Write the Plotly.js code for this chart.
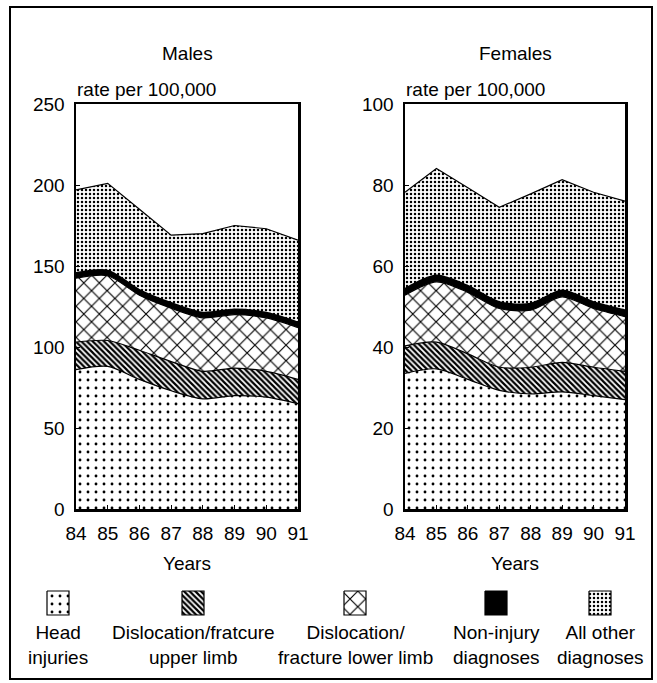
<!DOCTYPE html>
<html><head><meta charset="utf-8">
<script src="https://cdn.plot.ly/plotly-3.0.1.min.js"></script>
<style>html,body{margin:0;padding:0;background:#fff;} #chart{width:657px;height:683px;}</style>
</head><body><div id="chart"></div>
<script>
// ---------- data ----------
const years = [84, 85, 86, 87, 88, 89, 90, 91];
const yearLabels = ['84', '85', '86', '87', '88', '89', '90', '91'];
const categories = ['Head injuries', 'Dislocation/fratcure upper limb', 'Dislocation/fracture lower limb', 'Non-injury diagnoses', 'All other diagnoses'];
const legendLabels = ['Head<br>injuries', 'Dislocation/fratcure<br>upper limb', 'Dislocation/<br>fracture lower limb', 'Non-injury<br>diagnoses', 'All other<br>diagnoses'];

const malesHead       = [86, 88, 80, 73, 68, 70, 69, 65];
const malesUpper      = [17, 16, 18, 18, 17, 17, 16, 15];
const malesLower      = [39.5, 40, 34, 33, 33, 33, 33, 32];
const malesNonInjury  = [3, 3, 3, 3, 3, 3, 3, 3];
const malesOther      = [51.5, 54, 50, 42, 49, 52, 52, 51];

const femalesHead      = [33.5, 34.6, 32, 29.3, 28.4, 28.9, 28, 27];
const femalesUpper     = [6.8, 6.6, 6.3, 5.7, 6.6, 7.3, 7, 7];
const femalesLower     = [12.5, 14.9, 15.2, 14.5, 14.1, 16.2, 14.5, 13.5];
const femalesNonInjury = [1.5, 1.5, 1.5, 1.5, 1.5, 1.5, 1.5, 1.5];
const femalesOther     = [23.9, 26.5, 24.3, 23.5, 27.2, 27.4, 27.2, 27];

const maleTicks = [0, 50, 100, 150, 200, 250];
const femaleTicks = [0, 20, 40, 60, 80, 100];

// ---------- styles ----------
const W = 657, H = 683;
const FONT = 'Liberation Sans, Arial, Helvetica, sans-serif';
const patterns = [
  {shape: '.', size: 8, solidity: 0.1, fgcolor: '#000', bgcolor: '#fff'},
  {shape: '\\', size: 4, solidity: 0.55, fgcolor: '#000', bgcolor: '#fff'},
  {shape: 'x', size: 11, solidity: 0.2, fgcolor: '#000', bgcolor: '#fff'},
  null,
  {shape: '.', size: 4, solidity: 0.3, fgcolor: '#000', bgcolor: '#fff'}
];
const shapes = ['spline', 'spline', 'spline', 'spline', 'linear'];

function panelTraces(series, xa, ya, group) {
  return series.map((vals, i) => {
    const t = {
      type: 'scatter', mode: 'lines', x: years, y: vals, name: categories[i],
      xaxis: xa, yaxis: ya, stackgroup: group,
      line: {color: '#000', width: i === 3 ? 2.5 : 1.2, shape: shapes[i], smoothing: 0.8},
      showlegend: false, hoverinfo: 'skip'
    };
    if (patterns[i]) { t.fillpattern = patterns[i]; t.fillcolor = '#fff'; }
    else { t.fillcolor = '#000'; }
    return t;
  });
}

const traces = [].concat(
  panelTraces([malesHead, malesUpper, malesLower, malesNonInjury, malesOther], 'x', 'y', 'm'),
  panelTraces([femalesHead, femalesUpper, femalesLower, femalesNonInjury, femalesOther], 'x2', 'y2', 'f')
);

// legend icons on a hidden pixel axis
const legendX = [58, 193, 355, 496, 600];
const iconTop = 591, iconBot = 615, iconHalf = 11;
legendX.forEach((cx, i) => {
  const t = {
    type: 'scatter', mode: 'lines', xaxis: 'x3', yaxis: 'y3', fill: 'toself',
    x: [cx - iconHalf, cx + iconHalf, cx + iconHalf, cx - iconHalf, cx - iconHalf],
    y: [iconTop, iconTop, iconBot, iconBot, iconTop],
    line: {color: '#000', width: 1.2}, showlegend: false, hoverinfo: 'skip'
  };
  if (patterns[i]) { t.fillpattern = patterns[i]; t.fillcolor = '#fff'; }
  else { t.fillcolor = '#000'; }
  traces.push(t);
});

const px = v => v / W;
const py = v => 1 - v / H;

const axisFont = {family: FONT, size: 19, color: '#000'};
function xAxis(domain, anchor) {
  return {domain, anchor, range: [84, 91], tickvals: years, ticktext: yearLabels,
    showline: true, mirror: true, linecolor: '#000', linewidth: 2.5,
    ticks: 'inside', ticklen: 4, tickcolor: '#000', showgrid: false, zeroline: false,
    tickfont: axisFont, ticklabelstandoff: 6, fixedrange: true};
}
function yAxis(domain, anchor, range, ticks) {
  return {domain, anchor, range, tickvals: ticks, ticktext: ticks.map(String),
    showline: true, mirror: true, linecolor: '#000', linewidth: 2.5,
    ticks: 'inside', ticklen: 4, tickcolor: '#000', showgrid: false, zeroline: false,
    tickfont: axisFont, ticklabelstandoff: 5, fixedrange: true};
}

const yDom = [py(509), py(104)];
const layout = {
  width: W, height: H, margin: {l: 0, r: 0, t: 0, b: 0},
  paper_bgcolor: '#fff', plot_bgcolor: 'rgba(0,0,0,0)', showlegend: false,
  font: {family: FONT, size: 19, color: '#000'},
  xaxis3: {domain: [0, 1], anchor: 'y3', range: [0, W], visible: false, fixedrange: true},
  yaxis3: {domain: [0, 1], anchor: 'x3', range: [H, 0], visible: false, fixedrange: true},
  xaxis: xAxis([px(76), px(298)], 'y'),
  yaxis: yAxis(yDom, 'x', [0, 250], maleTicks),
  xaxis2: xAxis([px(405), px(625)], 'y2'),
  yaxis2: yAxis(yDom, 'x2', [0, 100], femaleTicks),
  shapes: [
    {type: 'rect', xref: 'paper', yref: 'paper', x0: px(10), x1: px(652), y0: py(679), y1: py(7),
     line: {color: '#000', width: 2}}
  ],
  annotations: [
    {text: 'Males', x: px(187), y: py(54), xref: 'paper', yref: 'paper', showarrow: false, xanchor: 'center', yanchor: 'middle'},
    {text: 'Females', x: px(515), y: py(54), xref: 'paper', yref: 'paper', showarrow: false, xanchor: 'center', yanchor: 'middle'},
    {text: 'rate per 100,000', x: px(75), y: py(89), xref: 'paper', yref: 'paper', showarrow: false, xanchor: 'left', yanchor: 'middle'},
    {text: 'rate per 100,000', x: px(404), y: py(89), xref: 'paper', yref: 'paper', showarrow: false, xanchor: 'left', yanchor: 'middle'},
    {text: 'Years', x: px(187), y: py(563), xref: 'paper', yref: 'paper', showarrow: false, xanchor: 'center', yanchor: 'middle'},
    {text: 'Years', x: px(515), y: py(563), xref: 'paper', yref: 'paper', showarrow: false, xanchor: 'center', yanchor: 'middle'}
  ].concat(legendLabels.map((t, i) => ({
    text: t, x: px(legendX[i]), y: py(645), xref: 'paper', yref: 'paper', showarrow: false,
    xanchor: 'center', yanchor: 'middle', align: 'center'
  })))
};

Plotly.newPlot('chart', traces, layout, {staticPlot: true, displayModeBar: false});
</script>
</body></html>
